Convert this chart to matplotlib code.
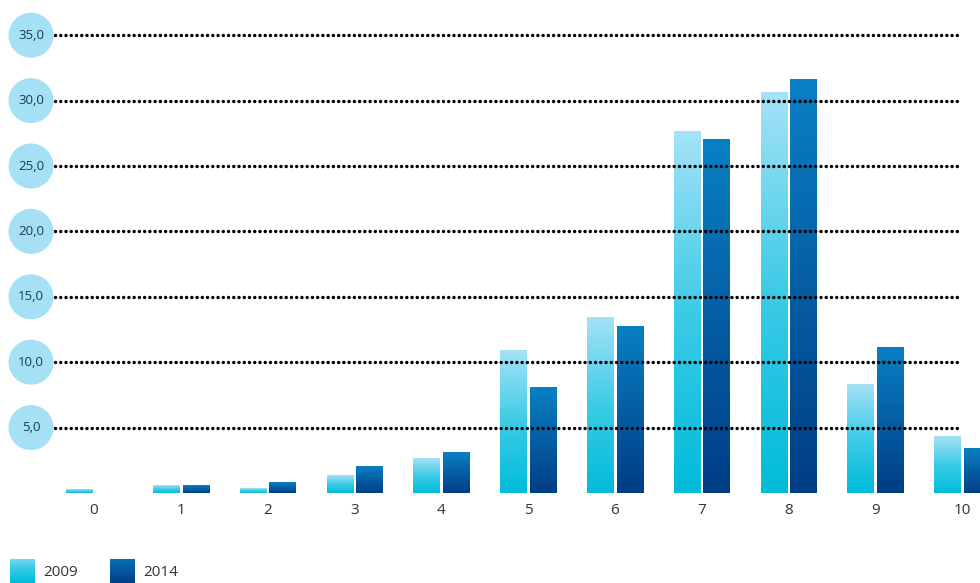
import numpy as np
import matplotlib
matplotlib.use("Agg")
import matplotlib.pyplot as plt
from matplotlib.colors import LinearSegmentedColormap

plt.rcParams['font.family'] = ['Open Sans', 'DejaVu Sans']

# Data
categories = ['0', '1', '2', '3', '4', '5', '6', '7', '8', '9', '10']
values_2009 = [0.26, 0.6, 0.35, 1.3, 2.6, 10.9, 13.4, 27.6, 30.6, 8.3, 4.3]
values_2014 = [0.0, 0.55, 0.8, 2.05, 3.1, 8.05, 12.7, 27.05, 31.6, 11.1, 3.4]
series_names = ['2009', '2014']
grid_values = [5, 10, 15, 20, 25, 30, 35]
grid_labels = ['5,0', '10,0', '15,0', '20,0', '25,0', '30,0', '35,0']

# bottom -> top gradient colours for each series
cmap_2009 = LinearSegmentedColormap.from_list('c09', ['#00bcd9', '#3ccbe6', '#a6e2f7'])
cmap_2014 = LinearSegmentedColormap.from_list('c14', ['#003d85', '#0a80c4'])
grad = np.linspace(0, 1, 256).reshape(-1, 1)

fig = plt.figure(figsize=(9.8, 5.83), dpi=100)
ax = fig.add_axes([0, 90 / 583, 1, 493 / 583])
ax.set_xlim(-94 / 86.8, (980 - 94) / 86.8)
ax.set_ylim(0, 493 / 13.08)
ax.axis('off')

x = np.arange(len(categories))
width = 0.30
offset = 0.17

for vals, off, cmap in [(values_2009, -offset, cmap_2009), (values_2014, offset, cmap_2014)]:
    bars = ax.bar(x + off, vals, width, color='none', edgecolor='none')
    for b in bars:
        x0, y0 = b.get_x(), b.get_y()
        w, h = b.get_width(), b.get_height()
        if h <= 0:
            continue
        ax.imshow(grad, extent=[x0, x0 + w, y0, y0 + h], origin='lower',
                  cmap=cmap, aspect='auto', zorder=2, interpolation='bilinear')

# dotted grid lines drawn over the bars
gx0 = (55 - 94) / 86.8
gx1 = (958 - 94) / 86.8
for gv in grid_values:
    ax.plot([gx0, gx1], [gv, gv], color='black', lw=2.5,
            linestyle=(0, (0.01, 1.5)), dash_capstyle='round', zorder=3)

# value circles on the left
cx = (31 - 94) / 86.8
ax.scatter([cx] * len(grid_values), grid_values, s=(45 * 0.72) ** 2,
           color='#a6e0f5', edgecolors='none', zorder=4, clip_on=False)
for gv, lab in zip(grid_values, grid_labels):
    ax.text(cx, gv, lab, ha='center', va='center', fontsize=9.5,
            color='#1e3a56', zorder=5)

# category labels
for xi, lab in zip(x, categories):
    ax.text(xi, -1.3, lab, ha='center', va='center', fontsize=11,
            color='#333333', clip_on=False)

# legend with gradient swatches
for i, (name, cmap) in enumerate(zip(series_names, [cmap_2009, cmap_2014])):
    left = 10 + i * 100
    sw = fig.add_axes([left / 980, 0, 25 / 980, 24 / 583])
    sw.imshow(grad, origin='lower', cmap=cmap, aspect='auto', extent=[0, 1, 0, 1.3])
    sw.set_ylim(0, 1)
    sw.axis('off')
    fig.text((left + 33) / 980, (583 - 573) / 583, name, ha='left', va='center',
             fontsize=11, color='#333333')

fig.savefig('out.png', dpi=100)
